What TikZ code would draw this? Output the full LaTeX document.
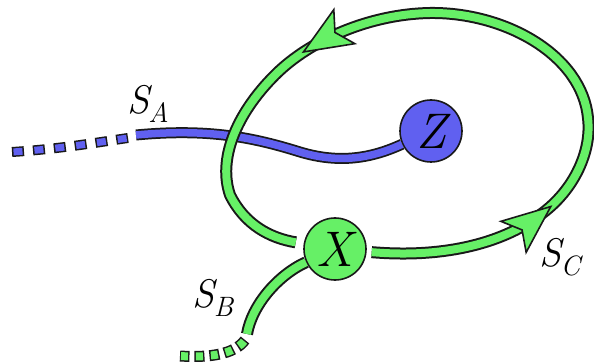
\documentclass[tikz,border=0pt]{standalone}
\usepackage{fontspec}
\usetikzlibrary{decorations.markings}
\definecolor{gr}{RGB}{102,240,102}
\definecolor{bl}{RGB}{96,96,240}
\definecolor{ol}{RGB}{25,25,25}
\newcommand\garrowhead{\filldraw[fill=gr, draw=ol, line width=1.6pt] (6,0) -- (-42,20) -- (-31,0) -- (-42,-20) -- cycle;}
\newcommand\strandlab[2]{\itshape #1\kern-1pt\raisebox{-9pt}{\fontsize{28}{30}\selectfont #2}}
\begin{document}
\begin{tikzpicture}[x=1pt,y=-1pt,
  gtube/.style={line width=12pt, draw=ol, postaction={draw=gr, line width=8pt}},
  btube/.style={line width=11pt, draw=ol, postaction={draw=bl, line width=7.5pt}},
  bdots/.style={line width=10pt, draw=ol, dash pattern=on 12pt off 9pt,
    postaction={draw=bl, line width=7pt, dash pattern=on 9pt off 12pt, dash phase=19.5pt}},
  gdots/.style={line width=11pt, draw=ol, dash pattern=on 10pt off 5pt,
    postaction={draw=gr, line width=8pt, dash pattern=on 7pt off 8pt, dash phase=13.5pt}},
  ball/.style={circle, draw=ol, line width=1.6pt, minimum size=62pt, inner sep=0pt,
    font=\fontsize{50}{56}\selectfont\itshape},
  lab/.style={font=\fontsize{40}{48}\selectfont, inner sep=0pt},
  loopmarks/.style={decoration={markings,
    mark=at position 0.21 with {\garrowhead},
    mark=at position 0.70 with {\garrowhead}}}
]
\useasboundingbox (0,0) rectangle (594,363);
\node[ball, fill=bl] (Z) at (431,131) {Z};
\node[ball, fill=gr] (X) at (335,249) {X};
\coordinate (a0) at (12,152);
\coordinate (a1) at (128,138);
\coordinate (a2) at (136,135);
\coordinate (b1) at (247,334);
\coordinate (b2) at (245,340);
\coordinate (b0) at (180,356);
% blue strand S_A
\draw[bdots] (a0) .. controls (60,149) and (100,142) .. (a1);
\draw[btube] (a2) .. controls (210,128) and (255,138) .. (300,152)
  .. controls (340,164) and (372,158) .. (Z);
% green strand S_B
\draw[gdots] (b2) .. controls (235,354) and (210,358) .. (b0);
\draw[gtube] (X) .. controls (278,275) and (252,305) .. (b1);
% green loop S_C
\draw[gtube, shorten <=5pt, shorten >=8pt, loopmarks, postaction={decorate}]
  (X) .. controls (440,258) and (500,245) .. (540,215)
  .. controls (575,190) and (592,150) .. (588,118)
  .. controls (582,55) and (505,12) .. (430,13)
  .. controls (370,14) and (310,40) .. (275,75)
  .. controls (235,115) and (218,160) .. (230,195)
  .. controls (245,225) and (270,238) .. (X);
% labels
\node[lab] (sa) at (148,104) {\strandlab{S}{A}};
\node[lab] (sb) at (213,298) {\strandlab{S}{B}};
\node[lab] (sc) at (560,257) {\strandlab{S}{C}};
\end{tikzpicture}
\end{document}
